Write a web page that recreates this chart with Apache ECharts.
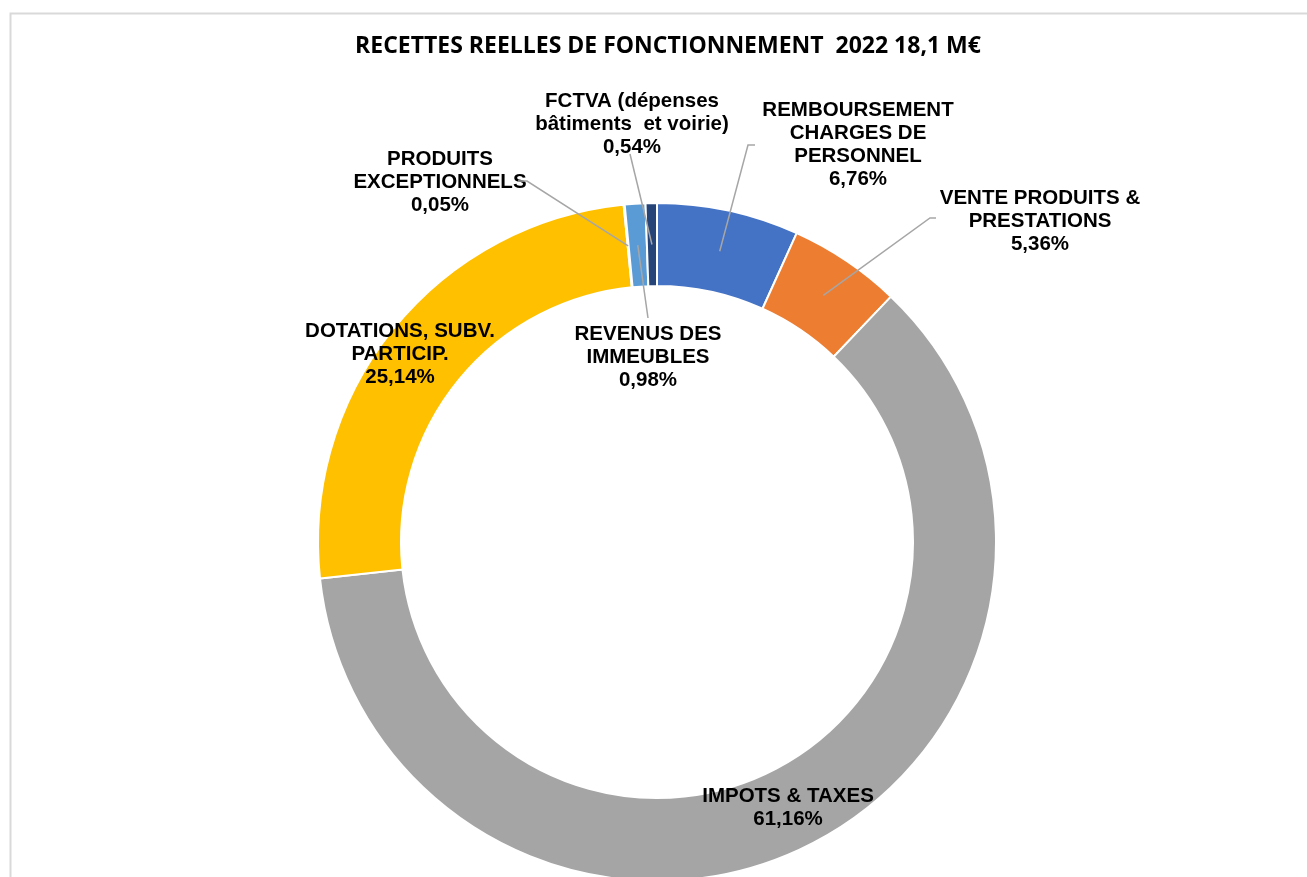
<!DOCTYPE html>
<html>
<head>
<meta charset="utf-8">
<script src="https://cdn.jsdelivr.net/npm/echarts@6/dist/echarts.min.js"></script>
<style>
  html, body { margin: 0; padding: 0; background: #ffffff; }
  #chart { width: 1307px; height: 877px; }
</style>
</head>
<body>
<div id="chart"></div>
<script>
// Recettes réelles de fonctionnement 2022, part de chaque poste (%)
const categories = [
  'REMBOURSEMENT\nCHARGES DE\nPERSONNEL',
  'VENTE PRODUITS &\nPRESTATIONS',
  'IMPOTS & TAXES',
  'DOTATIONS, SUBV.\nPARTICIP.',
  'PRODUITS\nEXCEPTIONNELS',
  'REVENUS DES\nIMMEUBLES',
  'FCTVA (dépenses\nbâtiments  et voirie)'
];
const shares = [6.76, 5.36, 61.16, 25.14, 0.05, 0.98, 0.54];
const colors = ['#4472C4', '#ED7D31', '#A5A5A5', '#FFC000', '#70AD47', '#5B9BD5', '#264478'];
const title = 'RECETTES REELLES DE FONCTIONNEMENT  2022 18,1 M€';

// Ring geometry
const CX = 657, CY = 542, R_IN = 256, R_OUT = 339;

// Where each label sits, and the bend / end of its leader line (null = no line)
const labelPlacement = [
  { x: 858, y: 145, line: [[748, 145], [755, 145]] },
  { x: 1040, y: 221, line: [[930, 218], [936, 218]] },
  { x: 788, y: 808, line: null },
  { x: 400, y: 354, line: null },
  { x: 440, y: 182, line: [[527, 181], [518, 181]] },
  { x: 648, y: 357, line: [[648, 318]] },
  { x: 632, y: 124, line: [[630, 154]] }
];

const total = shares.reduce((a, b) => a + b, 0);
// Point in the middle of the ring, at the mid-angle of slice i
function midPoint(i) {
  let before = 0;
  for (let k = 0; k < i; k++) before += shares[k];
  const frac = (before + shares[i] / 2) / total;
  const ang = frac * 2 * Math.PI;
  const r = (R_IN + R_OUT) / 2;
  return [CX + r * Math.sin(ang), CY - r * Math.cos(ang)];
}

const fmt = v => v.toFixed(2).replace('.', ',') + '%';

// Leader lines drawn above the ring, from the slice to its label
const leaders = labelPlacement.map((pl, i) => pl.line ? {
  type: 'polyline',
  z: 100,
  silent: true,
  shape: { points: [midPoint(i)].concat(pl.line) },
  style: { fill: null, stroke: '#A6A6A6', lineWidth: 1.5 }
} : null).filter(Boolean);

const chart = echarts.init(document.getElementById('chart'), null, { renderer: 'canvas' });
chart.setOption({
  backgroundColor: '#ffffff',
  animation: false,
  title: {
    text: title,
    left: 663,
    top: 30,
    textAlign: 'center',
    textStyle: {
      fontFamily: '"Open Sans", sans-serif',
      fontWeight: 'bold',
      fontSize: 23,
      color: '#000000'
    }
  },
  graphic: [{
    type: 'rect',
    shape: { x: 10.5, y: 13.5, width: 1320, height: 900 },
    style: { fill: null, stroke: '#d9d9d9', lineWidth: 2 },
    z: -1
  }].concat(leaders),
  series: [{
    type: 'pie',
    center: [CX, CY],
    radius: [R_IN, R_OUT],
    startAngle: 90,
    clockwise: true,
    avoidLabelOverlap: false,
    itemStyle: { borderColor: '#ffffff', borderWidth: 2 },
    label: {
      show: true,
      formatter: p => p.name + '\n' + fmt(p.value),
      fontFamily: '"Liberation Sans", Arial, sans-serif',
      fontWeight: 'bold',
      fontSize: 20.5,
      lineHeight: 23,
      color: '#000000',
      align: 'center'
    },
    labelLine: { show: false },
    labelLayout: function (params) {
      const pl = labelPlacement[params.dataIndex];
      return { x: pl.x, y: pl.y, align: 'center', verticalAlign: 'middle' };
    },
    data: categories.map((c, i) => ({
      name: c,
      value: shares[i],
      itemStyle: { color: colors[i] }
    }))
  }]
});
</script>
</body>
</html>
